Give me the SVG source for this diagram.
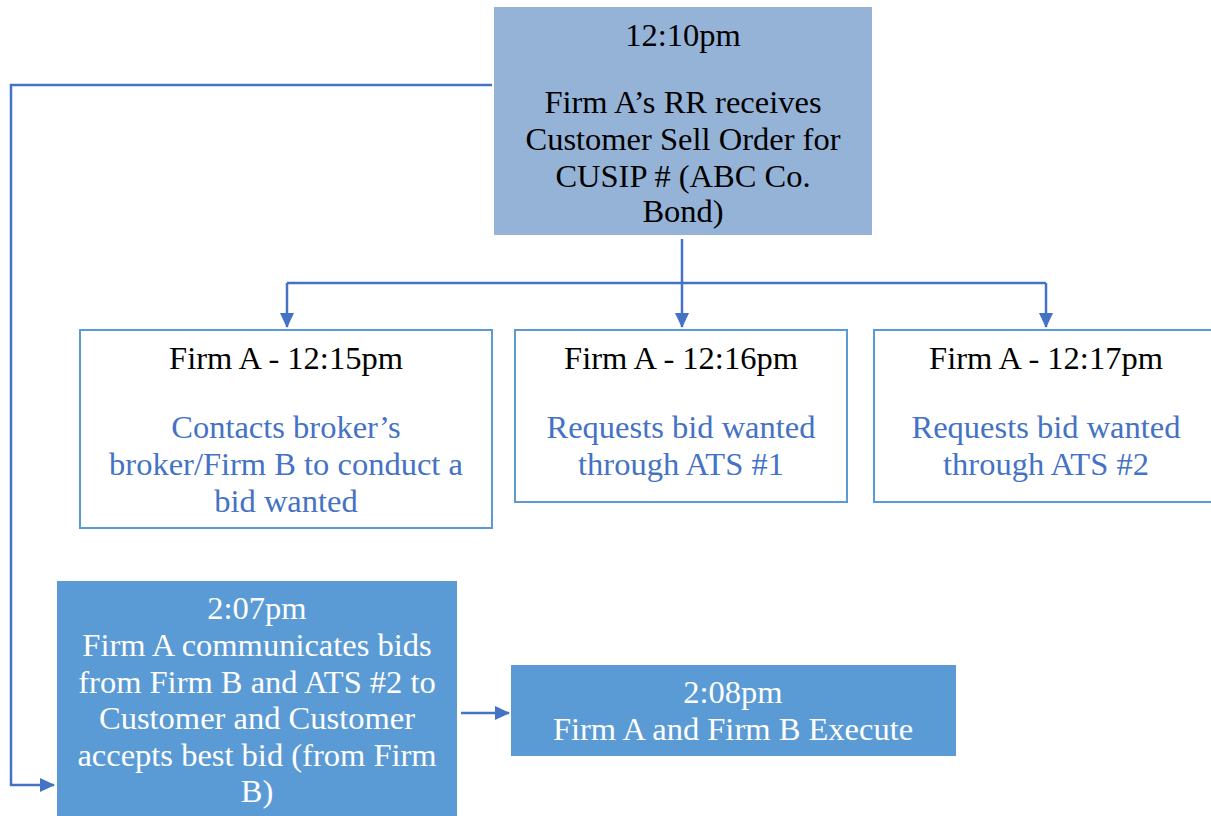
<svg xmlns="http://www.w3.org/2000/svg" width="1211" height="816" viewBox="0 0 1211 816">
<style>
text{font-family:"Liberation Serif","Times New Roman",serif;font-size:32.5px;text-anchor:middle}
.dk{fill:#000}
.bl{fill:#4472c4}
.wh{fill:#fff}
.ob{fill:#fff;stroke:#5b9bd5;stroke-width:2}
.c{fill:none;stroke:#4472c4;stroke-width:2.5}
</style>
<defs>
<marker id="ah2" markerWidth="16" markerHeight="16" refX="14" refY="8" orient="auto" markerUnits="userSpaceOnUse" viewBox="0 0 16 16">
<path d="M0,1 L15,8 L0,15 Z" fill="#4472c4"/>
</marker>
</defs>
<rect width="1211" height="816" fill="#fff"/>
<g id="connectors">
<path class="c" d="M492,85 H11 V785 H54" marker-end="url(#ah2)"/>
<path class="c" d="M682,239 V283"/>
<path class="c" d="M287,283 H1046"/>
<path class="c" d="M287,283 V327" marker-end="url(#ah2)"/>
<path class="c" d="M682,283 V327" marker-end="url(#ah2)"/>
<path class="c" d="M1046,283 V327" marker-end="url(#ah2)"/>
<path class="c" d="M461,713 H509" marker-end="url(#ah2)"/>
</g>
<g id="n1210">
<rect x="494" y="7" width="378" height="228" fill="#95b3d7"/>
<text class="dk" x="683" y="46">12:10pm</text>
<text class="dk" x="683" y="113">Firm A’s RR receives</text>
<text class="dk" x="683" y="150">Customer Sell Order for</text>
<text class="dk" x="683" y="187">CUSIP # (ABC Co.</text>
<text class="dk" x="683" y="222">Bond)</text>
</g>
<g id="n1215">
<rect class="ob" x="80" y="330" width="412" height="198"/>
<text class="dk" x="286" y="369">Firm A - 12:15pm</text>
<text class="bl" x="286" y="438">Contacts broker’s</text>
<text class="bl" x="286" y="475">broker/Firm B to conduct a</text>
<text class="bl" x="286" y="512">bid wanted</text>
</g>
<g id="n1216">
<rect class="ob" x="515" y="330" width="332" height="172"/>
<text class="dk" x="681" y="369">Firm A - 12:16pm</text>
<text class="bl" x="681" y="438">Requests bid wanted</text>
<text class="bl" x="681" y="475">through ATS #1</text>
</g>
<g id="n1217">
<rect class="ob" x="874" y="330" width="340" height="172"/>
<text class="dk" x="1046" y="369">Firm A - 12:17pm</text>
<text class="bl" x="1046" y="438">Requests bid wanted</text>
<text class="bl" x="1046" y="475">through ATS #2</text>
</g>
<g id="n207">
<rect x="57" y="581" width="400" height="240" fill="#5b9bd5"/>
<text class="wh" x="257" y="619">2:07pm</text>
<text class="wh" x="257" y="656">Firm A communicates bids</text>
<text class="wh" x="257" y="693">from Firm B and ATS #2 to</text>
<text class="wh" x="257" y="729">Customer and Customer</text>
<text class="wh" x="257" y="766">accepts best bid (from Firm</text>
<text class="wh" x="257" y="802">B)</text>
</g>
<g id="n208">
<rect x="511" y="665" width="445" height="91" fill="#5b9bd5"/>
<text class="wh" x="733" y="703">2:08pm</text>
<text class="wh" x="733" y="740">Firm A and Firm B Execute</text>
</g>
</svg>
